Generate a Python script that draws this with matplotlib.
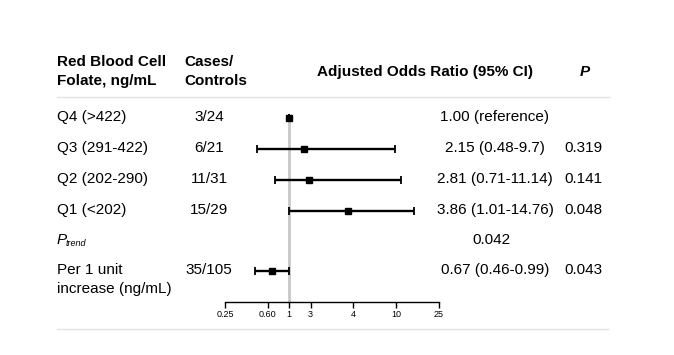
import matplotlib
matplotlib.use('Agg')
import matplotlib.pyplot as plt
import numpy as np

plt.rcParams['font.family'] = ['Liberation Sans', 'DejaVu Sans']

# rows of the table
labels = ['Q4 (>422)', 'Q3 (291-422)', 'Q2 (202-290)', 'Q1 (<202)', None, 'Per 1 unit\nincrease (ng/mL)']
cases = ['3/24', '6/21', '11/31', '15/29', '', '35/105']
or_text = ['1.00 (reference)', '2.15 (0.48-9.7)', '2.81 (0.71-11.14)', '3.86 (1.01-14.76)', '0.042',
           '0.67 (0.46-0.99)']
p_text = ['', '0.319', '0.141', '0.048', '', '0.043']

# estimates plotted (Ptrend row has no marker)
odds = [1.00, 2.15, 2.81, 3.86, 0.67]
ci_low = [1.00, 0.48, 0.71, 1.01, 0.46]
ci_high = [1.00, 9.7, 11.14, 14.76, 0.99]
marker_rows = [0, 1, 2, 3, 5]

tick_vals = [0.25, 0.60, 1, 3, 4, 10, 25]
tick_labels = ['0.25', '0.60', '1', '3', '4', '10', '25']
tick_pos = [0, 2, 3, 4, 6, 8, 10]  # uneven axis used in the original

W, H = 674, 355
fig = plt.figure(figsize=(W / 100, H / 100), dpi=100)

def fx(px):
    return px / W

def fy(py):
    return 1 - py / H

row_y = [117, 148, 179, 210, 240, 270]

# forest plot axes
ax_left, ax_right, ax_top, ax_bot = 225, 439, 110, 302
ax = fig.add_axes([fx(ax_left), fy(ax_bot), fx(ax_right - ax_left), (ax_bot - ax_top) / H])


def fwd(v):
    v = np.clip(np.asarray(v, dtype=float), 1e-6, None)
    return np.interp(np.log(v), np.log(tick_vals), tick_pos)


def inv(p):
    return np.exp(np.interp(p, tick_pos, np.log(tick_vals)))


ax.set_xscale('function', functions=(fwd, inv))
ax.set_xlim(0.25, 25)
ax.set_ylim(ax_bot, ax_top)

ax.axvline(1, color='#c8c8c8', lw=2, zorder=0, ymax=(ax_bot - 116) / (ax_bot - ax_top))

ys = [row_y[r] + 1 for r in marker_rows]
o = np.array(odds)
err = [o - np.array(ci_low), np.array(ci_high) - o]
ax.errorbar(o, ys, xerr=err, fmt='s', color='black', ms=5, capsize=3, elinewidth=1.7, capthick=1.3)

for s in ['top', 'right', 'left']:
    ax.spines[s].set_visible(False)
ax.spines['bottom'].set_linewidth(1)
ax.set_yticks([])
ax.set_xticks(tick_vals)
ax.set_xticklabels(tick_labels)
ax.xaxis.set_minor_locator(matplotlib.ticker.NullLocator())
ax.tick_params(axis='x', length=4, width=1, labelsize=6.5, pad=1.5, colors='black')
ax.patch.set_alpha(0)

# header
hfs = 11
fig.text(fx(57), fy(62), 'Red Blood Cell', fontsize=hfs, fontweight='bold', va='center')
fig.text(fx(57), fy(81), 'Folate, ng/mL', fontsize=hfs, fontweight='bold', va='center')
fig.text(fx(184), fy(62), 'Cases/', fontsize=hfs, fontweight='bold', va='center')
fig.text(fx(184), fy(81), 'Controls', fontsize=hfs, fontweight='bold', va='center')
fig.text(fx(425), fy(72), 'Adjusted Odds Ratio (95% CI)', fontsize=hfs, fontweight='bold', va='center', ha='center')
fig.text(fx(585), fy(72), 'P', fontsize=hfs, fontweight='bold', style='italic', va='center', ha='center')

# separator lines
fig.add_artist(plt.Line2D([fx(57), fx(610)], [fy(97), fy(97)], color='#e3e3e3', lw=1))
fig.add_artist(plt.Line2D([fx(57), fx(608)], [fy(329), fy(329)], color='#e3e3e3', lw=1))

# table body
fs = 11
for i, y in enumerate(row_y):
    if labels[i] is None:
        fig.text(fx(57), fy(y), 'P', fontsize=fs, style='italic', va='center')
        fig.text(fx(66), fy(y + 3), 'trend', fontsize=6.5, style='italic', va='center')
    elif '\n' in labels[i]:
        l1, l2 = labels[i].split('\n')
        fig.text(fx(57), fy(y), l1, fontsize=fs, va='center')
        fig.text(fx(57), fy(y + 19), l2, fontsize=fs, va='center')
    else:
        fig.text(fx(57), fy(y), labels[i], fontsize=fs, va='center')
    if cases[i]:
        fig.text(fx(209), fy(y), cases[i], fontsize=fs, va='center', ha='center')
    fig.text(fx(495 if or_text[i] != '0.042' else 491), fy(y), or_text[i], fontsize=fs, va='center', ha='center')
    if p_text[i]:
        fig.text(fx(583), fy(y), p_text[i], fontsize=fs, va='center', ha='center')

fig.savefig('out.png', dpi=100)
